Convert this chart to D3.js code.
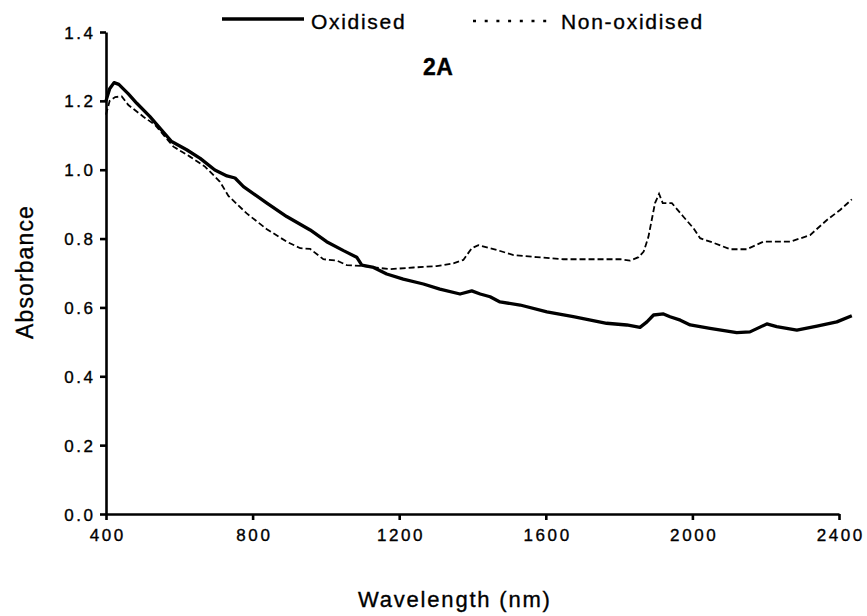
<!DOCTYPE html>
<html>
<head>
<meta charset="utf-8">
<script src="https://cdn.jsdelivr.net/npm/d3@7"></script>
<style>
  body { margin: 0; background: #fff; }
  svg text { font-family: "Liberation Sans", Arial, sans-serif; fill: #000; stroke: #000; stroke-width: 0.35px; }
</style>
</head>
<body>
<div id="chart"></div>
<script>
// --- data
const oxWavelength = [400, 410, 422, 435, 450, 461, 484, 520, 547, 579, 620, 657, 697, 730, 752, 775, 839, 893, 957, 1002, 1048, 1084, 1098, 1130, 1166, 1211, 1266, 1311, 1366, 1398, 1421, 1448, 1475, 1530, 1603, 1675, 1766, 1821, 1857, 1876, 1894, 1921, 1939, 1967, 1994, 2048, 2121, 2157, 2203, 2230, 2285, 2340, 2394, 2435];
const oxAbsorbance = [1.20, 1.235, 1.253, 1.248, 1.232, 1.220, 1.193, 1.154, 1.121, 1.082, 1.058, 1.033, 0.999, 0.982, 0.976, 0.951, 0.903, 0.864, 0.825, 0.791, 0.765, 0.746, 0.723, 0.716, 0.697, 0.682, 0.668, 0.653, 0.639, 0.648, 0.639, 0.631, 0.616, 0.607, 0.587, 0.573, 0.554, 0.549, 0.542, 0.558, 0.578, 0.581, 0.573, 0.563, 0.549, 0.539, 0.527, 0.529, 0.552, 0.544, 0.534, 0.546, 0.558, 0.576];

const nonWavelength = [400, 410, 425, 443, 461, 502, 534, 584, 629, 670, 711, 734, 784, 839, 893, 930, 957, 993, 1030, 1057, 1102, 1175, 1239, 1302, 1348, 1375, 1398, 1416, 1448, 1466, 1512, 1575, 1648, 1739, 1803, 1830, 1853, 1867, 1880, 1889, 1898, 1909, 1919, 1944, 1975, 2003, 2021, 2057, 2103, 2148, 2194, 2239, 2267, 2321, 2367, 2403, 2435];
const nonAbsorbance = [1.16, 1.20, 1.211, 1.213, 1.188, 1.154, 1.130, 1.067, 1.038, 1.009, 0.965, 0.924, 0.873, 0.827, 0.791, 0.772, 0.770, 0.740, 0.736, 0.723, 0.720, 0.711, 0.716, 0.720, 0.728, 0.738, 0.772, 0.781, 0.772, 0.767, 0.752, 0.746, 0.740, 0.740, 0.740, 0.736, 0.746, 0.762, 0.805, 0.854, 0.903, 0.930, 0.903, 0.903, 0.864, 0.830, 0.801, 0.788, 0.769, 0.769, 0.791, 0.791, 0.791, 0.810, 0.854, 0.883, 0.914];

const xTicks = [400, 800, 1200, 1600, 2000, 2400];
const yTicks = [0, 0.2, 0.4, 0.6, 0.8, 1.0, 1.2, 1.4];
const seriesNames = ['Oxidised', 'Non-oxidised'];

const width = 867;
const height = 616;
const margin = { top: 32, right: 28, bottom: 102, left: 106 };
const plotW = width - margin.left - margin.right;
const plotH = height - margin.top - margin.bottom;

const svg = d3.select('#chart')
  .append('svg')
  .attr('width', width)
  .attr('height', height)
  .attr('viewBox', `0 0 ${width} ${height}`);

const g = svg.append('g')
  .attr('transform', `translate(${margin.left},${margin.top})`);

// --- scales
const x = d3.scaleLinear().domain([400, 2400]).range([0, plotW]);
const y = d3.scaleLinear().domain([0, 1.4]).range([plotH, 0]);

// --- axes
const xAxis = d3.axisBottom(x).tickValues(xTicks).tickFormat(d3.format('d')).tickSize(6).tickSizeOuter(0).tickPadding(9);
const yAxis = d3.axisLeft(y).tickValues(yTicks).tickFormat(d3.format('.1f')).tickSize(6).tickSizeOuter(0).tickPadding(7);

g.append('g')
  .attr('class', 'y-axis')
  .call(yAxis)
  .call(s => s.selectAll('path, line').attr('stroke', '#000').attr('stroke-width', 2.6))
  .call(s => s.selectAll('text').style('font-size', '17px').style('letter-spacing', '2.5px').attr('dx', '2.5px').attr('dy', '0.36em'));

g.append('g')
  .attr('class', 'x-axis')
  .attr('transform', `translate(0,${plotH})`)
  .call(xAxis)
  .call(s => s.selectAll('path, line').attr('stroke', '#000').attr('stroke-width', 2.6))
  .call(s => s.selectAll('text').style('font-size', '17px').style('letter-spacing', '2.6px').attr('dx', '1.3px').attr('dy', '0.71em'));

// axis titles
svg.append('text')
  .attr('x', 358)
  .attr('y', 607)
  .style('font-size', '22px')
  .style('letter-spacing', '1.8px')
  .text('Wavelength (nm)');

svg.append('text')
  .attr('transform', `translate(33,272) rotate(-90)`)
  .attr('text-anchor', 'middle')
  .style('font-size', '23px')
  .style('letter-spacing', '1.1px')
  .text('Absorbance');

// panel label
svg.append('text')
  .attr('x', 423)
  .attr('y', 75)
  .style('font-size', '23px')
  .style('font-weight', 'bold')
  .style('letter-spacing', '0.5px')
  .text('2A');

// --- lines
const line = d3.line()
  .x(d => x(d[0]))
  .y(d => y(d[1]));

const nonData = d3.zip(nonWavelength, nonAbsorbance);
const oxData = d3.zip(oxWavelength, oxAbsorbance);

g.append('path')
  .datum(nonData)
  .attr('fill', 'none')
  .attr('stroke', '#000')
  .attr('stroke-width', 1.8)
  .attr('stroke-dasharray', '6,3')
  .attr('d', line);

g.append('path')
  .datum(oxData)
  .attr('fill', 'none')
  .attr('stroke', '#000')
  .attr('stroke-width', 3.3)
  .attr('stroke-linejoin', 'round')
  .attr('d', line);

// --- legend
const legend = svg.append('g').attr('class', 'legend');

legend.append('line')
  .attr('x1', 222).attr('x2', 304)
  .attr('y1', 19).attr('y2', 19)
  .attr('stroke', '#000')
  .attr('stroke-width', 3.3);

legend.append('text')
  .attr('x', 311)
  .attr('y', 29)
  .style('font-size', '21px')
  .style('letter-spacing', '1.7px')
  .text(seriesNames[0]);

legend.append('line')
  .attr('x1', 473).attr('x2', 552)
  .attr('y1', 21).attr('y2', 21)
  .attr('stroke', '#000')
  .attr('stroke-width', 2.6)
  .attr('stroke-dasharray', '3,8.7');

legend.append('text')
  .attr('x', 561)
  .attr('y', 29)
  .style('font-size', '21px')
  .style('letter-spacing', '1.7px')
  .text(seriesNames[1]);
</script>
</body>
</html>
